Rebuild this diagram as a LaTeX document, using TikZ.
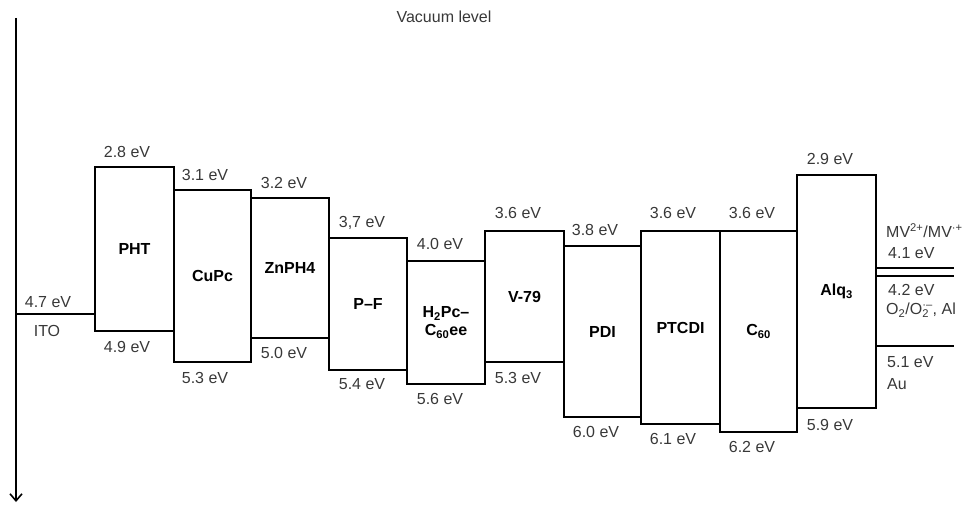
\documentclass[tikz,border=0pt]{standalone}
\usepackage{fontspec}
\setmainfont{Liberation Sans}
\usetikzlibrary{arrows.meta}
\begin{document}
\begin{tikzpicture}[x=1pt,y=-1pt,
  band/.style={draw, line width=2.7pt, inner sep=0pt, outer sep=0pt,
    font=\fontsize{16}{18}\selectfont\bfseries, align=center},
  ev/.style={font=\fontsize{16}{18}\selectfont, text=black!78, inner sep=0pt},
  evw/.style={ev, anchor=west},
  lvl/.style={line width=1.8pt},
  axis/.style={line width=1.6pt, -{Straight Barb[length=7pt,width=12pt,line width=1.6pt]}}]
\useasboundingbox (0,0) rectangle (964,505);

% axis
\coordinate (atop) at (16,18);
\coordinate (abot) at (16,502);
\draw[axis] (atop) -- (abot);
\node[ev] (vac) at (444,17) {Vacuum level};

% bands
\node[band, minimum width=79pt, minimum height=164pt] (pht)   at (134.5,249)   {PHT};
\node[band, minimum width=77pt, minimum height=172pt] (cupc)  at (212.5,276)   {CuPc};
\node[band, minimum width=78pt, minimum height=140pt] (znph)  at (290,268)     {ZnPH4};
\node[band, minimum width=78pt, minimum height=132pt] (pf)    at (368,304)     {P–F};
\node[band, minimum width=78pt, minimum height=123pt] (h2pc)  at (446,322.5)   {H\textsubscript{2}Pc–\\C\textsubscript{60}ee};
\node[band, minimum width=79pt, minimum height=131pt] (v79)   at (524.5,296.5) {V-79};
\node[band, minimum width=77pt, minimum height=171pt] (pdi)   at (602.5,331.5) {PDI};
\node[band, minimum width=79pt, minimum height=193pt] (ptcdi) at (680.5,327.5) {PTCDI};
\node[band, minimum width=77pt, minimum height=201pt] (cs)    at (758.5,331.5) {C\textsubscript{60}};
\node[band, minimum width=79pt, minimum height=233pt] (alq)   at (836.5,291.5) {Alq\textsubscript{3}};

% ITO
\coordinate (ito) at (16,314);
\draw[lvl] (ito) -- (pht.west |- ito);
\node[ev] (itoev) at (48,302) {4.7 eV};
\node[ev] (itol)  at (47,331) {ITO};

% right levels
\coordinate (r1) at (954,268);
\coordinate (r2) at (954,276);
\coordinate (r3) at (954,346);
\draw[lvl] (alq.east |- r1) -- (r1);
\draw[lvl] (alq.east |- r2) -- (r2);
\draw[lvl] (alq.east |- r3) -- (r3);
\node[evw] (mv)  at (886,231) {MV\textsuperscript{2+}/MV\textsuperscript{·+}};
\node[evw] (e41) at (888,253) {4.1 eV};
\node[evw] (e42) at (888,290) {4.2 eV};
\node[evw] (oo)  at (886,310) {O\textsubscript{2}/O\rlap{\textsubscript{2}}\textsuperscript{·–}, Al};
\node[evw] (e51) at (887,362) {5.1 eV};
\node[evw] (au)  at (887,384) {Au};

% top labels
\node[ev] at (127,152) {2.8 eV};
\node[ev] at (205,175) {3.1 eV};
\node[ev] at (284,183) {3.2 eV};
\node[ev] at (362,223) {3,7 eV};
\node[ev] at (440,244) {4.0 eV};
\node[ev] at (518,213) {3.6 eV};
\node[ev] at (595,230) {3.8 eV};
\node[ev] at (673,213) {3.6 eV};
\node[ev] at (752,213) {3.6 eV};
\node[ev] at (830,159) {2.9 eV};

% bottom labels
\node[ev] at (127,347) {4.9 eV};
\node[ev] at (205,378) {5.3 eV};
\node[ev] at (284,353) {5.0 eV};
\node[ev] at (362,384) {5.4 eV};
\node[ev] at (440,399) {5.6 eV};
\node[ev] at (518,378) {5.3 eV};
\node[ev] at (596,432) {6.0 eV};
\node[ev] at (673,439) {6.1 eV};
\node[ev] at (752,447) {6.2 eV};
\node[ev] at (830,425) {5.9 eV};
\end{tikzpicture}
\end{document}
